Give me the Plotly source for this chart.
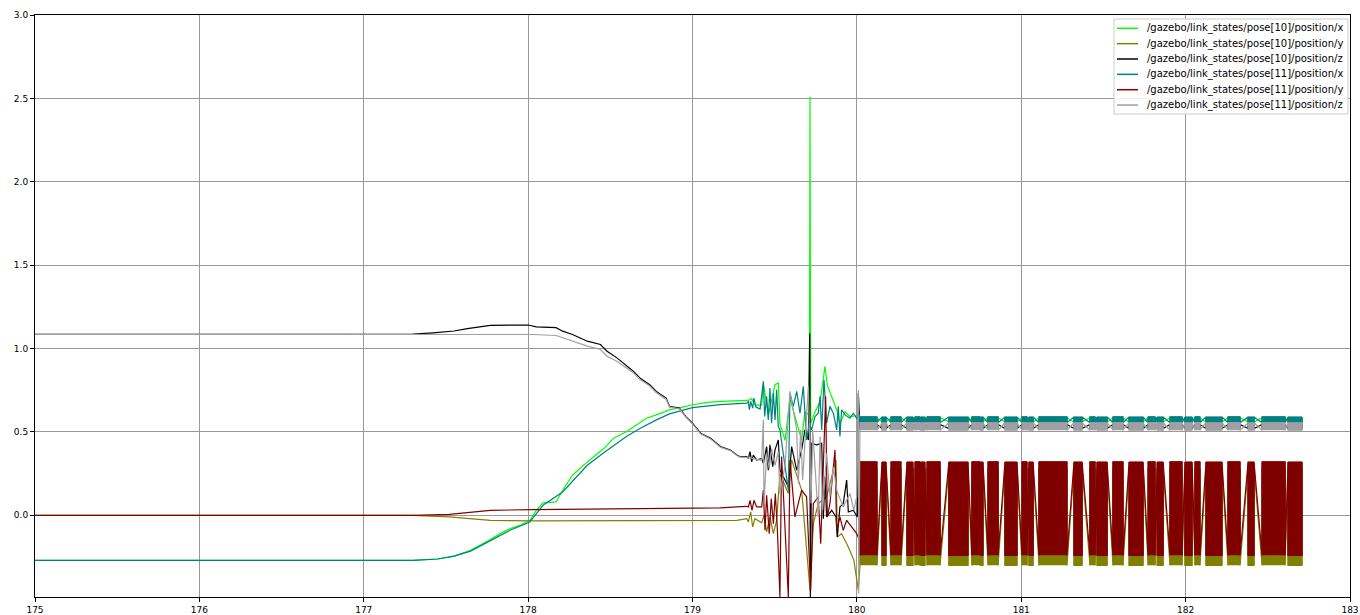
import plotly.graph_objects as go

# ---------------------------------------------------------------- names/colors
names = [
    "/gazebo/link_states/pose[10]/position/x",
    "/gazebo/link_states/pose[10]/position/y",
    "/gazebo/link_states/pose[10]/position/z",
    "/gazebo/link_states/pose[11]/position/x",
    "/gazebo/link_states/pose[11]/position/y",
    "/gazebo/link_states/pose[11]/position/z",
]
colors = ["#00ff00", "#808000", "#000000", "#008080", "#800000", "#a0a0a4"]

x_ticks = [175, 176, 177, 178, 179, 180, 181, 182, 183]
y_ticks = [0.0, 0.5, 1.0, 1.5, 2.0, 2.5, 3.0]

# ---------------------------------------------------------------- samples up to t = 180
t_x10 = [175.0, 177.30, 177.45, 177.55, 177.65, 177.72, 177.77, 177.83, 177.89, 177.95,
         178.01, 178.05, 178.09, 178.17, 178.21, 178.27, 178.36, 178.46, 178.52, 178.60,
         178.68, 178.72, 178.78, 178.86, 178.94, 179.00, 179.09, 179.17, 179.33,
         179.340, 179.360, 179.380, 179.421, 179.431, 179.461, 179.481, 179.502, 179.522,
         179.532, 179.563, 179.593, 179.664, 179.684, 179.711, 179.715, 179.719, 179.745,
         179.776, 179.806, 179.820, 179.877, 179.897, 179.928, 179.958, 180.015]
v_x10 = [-0.27, -0.27, -0.262, -0.245, -0.21, -0.175, -0.146, -0.11, -0.08, -0.06,
         -0.03, 0.03, 0.074, 0.08, 0.15, 0.24, 0.32, 0.40, 0.462, 0.502,
         0.552, 0.582, 0.602, 0.632, 0.649, 0.663, 0.677, 0.683, 0.689,
         0.689, 0.70, 0.66, 0.66, 0.79, 0.60, 0.70, 0.783, 0.793,
         0.55, 0.45, 0.70, 0.452, 0.62, 0.60, 2.51, 0.55, 0.62,
         0.68, 0.893, 0.78, 0.633, 0.55, 0.62, 0.592, 0.60]

t_y10 = [175.0, 177.30, 177.52, 177.67, 177.77, 178.03, 179.17, 179.27, 179.33,
         179.340, 179.354, 179.366, 179.380, 179.421, 179.435, 179.451, 179.471, 179.492,
         179.512, 179.532, 179.583, 179.603, 179.664, 179.715, 179.735, 179.765, 179.816,
         179.873, 179.881, 179.907, 179.948, 179.982, 180.009, 180.015]
v_y10 = [0.0, 0.0, -0.01, -0.024, -0.03, -0.034, -0.034, -0.03, -0.02,
         -0.04, 0.02, -0.07, -0.02, -0.045, 0.0, -0.10, -0.01, -0.11,
         -0.03, 0.251, 0.131, 0.332, 0.151, -0.45, -0.05, 0.07, 0.111,
         0.332, -0.13, -0.11, -0.19, -0.27, -0.45, -0.30]

t_z10 = [175.0, 177.30, 177.42, 177.55, 177.63, 177.70, 177.77, 178.00, 178.05, 178.17,
         178.21, 178.27, 178.36, 178.44, 178.48, 178.54, 178.60, 178.64, 178.68, 178.74,
         178.78, 178.84, 178.86, 178.92, 178.96, 179.00, 179.05, 179.11, 179.17, 179.23,
         179.27, 179.29, 179.33,
         179.340, 179.350, 179.360, 179.370, 179.390, 179.421, 179.431, 179.451, 179.461,
         179.471, 179.488, 179.502, 179.522, 179.532, 179.583, 179.603, 179.634, 179.664,
         179.684, 179.705, 179.713, 179.717, 179.725, 179.755, 179.786, 179.796, 179.806,
         179.816, 179.847, 179.873, 179.881, 179.897, 179.917, 179.938, 179.948, 179.978,
         180.003, 180.009, 180.015]
v_z10 = [1.085, 1.086, 1.094, 1.105, 1.119, 1.13, 1.139, 1.141, 1.13, 1.125,
         1.104, 1.084, 1.044, 1.024, 0.984, 0.944, 0.894, 0.864, 0.823, 0.783,
         0.743, 0.703, 0.653, 0.643, 0.592, 0.552, 0.492, 0.462, 0.412, 0.392,
         0.362, 0.351, 0.352,
         0.341, 0.382, 0.321, 0.361, 0.331, 0.341, 0.311, 0.412, 0.271,
         0.422, 0.291, 0.392, 0.452, 0.271, 0.171, 0.412, 0.271, 0.392,
         0.512, 0.452, 1.09, -0.49, 0.432, 0.422, 0.432, -0.02, 0.231,
         -0.01, 0.03, -0.01, -0.13, 0.05, 0.07, 0.211, 0.02, 0.03,
         -0.01, 0.733, 0.54]

t_x11 = [175.0, 177.30, 177.45, 177.55, 177.65, 177.72, 177.77, 177.89, 178.01, 178.09,
         178.21, 178.36, 178.46, 178.60, 178.68, 178.78, 178.86, 178.94, 179.00, 179.17,
         179.33,
         179.340, 179.346, 179.354, 179.366, 179.374, 179.386, 179.411, 179.431, 179.439,
         179.451, 179.461, 179.471, 179.481, 179.492, 179.502, 179.512, 179.522, 179.532,
         179.583, 179.593, 179.613, 179.634, 179.654, 179.674, 179.694, 179.711, 179.725,
         179.745, 179.765, 179.776, 179.786, 179.800, 179.816, 179.836, 179.857, 179.877,
         179.887, 179.897, 179.907, 179.928, 179.958, 179.978, 179.999, 180.015]
v_x11 = [-0.27, -0.27, -0.262, -0.245, -0.215, -0.18, -0.15, -0.09, -0.04, 0.06,
         0.14, 0.30, 0.375, 0.474, 0.52, 0.572, 0.608, 0.632, 0.646, 0.664,
         0.673,
         0.683, 0.633, 0.683, 0.643, 0.703, 0.649, 0.637, 0.803, 0.592,
         0.713, 0.572, 0.763, 0.552, 0.733, 0.572, 0.753, 0.532, 0.512,
         0.151, 0.733, 0.653, 0.743, 0.612, 0.773, 0.452, 0.552, 0.512,
         0.592, 0.612, 0.713, 0.512, 0.813, 0.552, 0.653, 0.612, 0.512,
         0.653, 0.472, 0.633, 0.602, 0.582, 0.612, 0.582, 0.602]

t_y11 = [175.0, 177.30, 177.52, 177.67, 177.77, 178.03, 178.64, 179.17, 179.27, 179.33,
         179.340, 179.350, 179.362, 179.374, 179.390, 179.421, 179.431, 179.441, 179.451,
         179.467, 179.479, 179.492, 179.504, 179.516, 179.532, 179.542, 179.583, 179.593,
         179.623, 179.664, 179.694, 179.719, 179.735, 179.765, 179.780, 179.810, 179.820,
         179.836, 179.867, 179.877, 179.897, 179.917, 179.938, 179.968, 179.999, 180.015]
v_y11 = [0.0, 0.0, 0.006, 0.02, 0.03, 0.034, 0.038, 0.044, 0.05, 0.054,
         0.05, 0.09, 0.03, 0.09, 0.05, 0.05, 0.151, -0.09, 0.12,
         -0.11, 0.10, -0.05, 0.13, -0.08, -0.49, 0.352, -0.49, 0.332,
         -0.01, 0.151, 0.111, -0.45, 0.07, 0.111, -0.17, 0.713, -0.01,
         0.07, 0.392, -0.09, -0.01, -0.09, -0.03, -0.07, -0.11, -0.15]

t_z11 = [175.0, 177.30, 178.00, 178.03, 178.17, 178.21, 178.27, 178.36, 178.44, 178.48,
         178.54, 178.60, 178.64, 178.68, 178.74, 178.78, 178.84, 178.86, 178.92, 178.96,
         179.00, 179.05, 179.11, 179.17, 179.23, 179.27, 179.29, 179.33,
         179.340, 179.370, 179.421, 179.431, 179.435, 179.451, 179.467, 179.481, 179.502,
         179.522, 179.532, 179.563, 179.593, 179.609, 179.634, 179.644, 179.658, 179.670,
         179.705, 179.721, 179.731, 179.765, 179.776, 179.792, 179.816, 179.836, 179.857,
         179.877, 179.917, 179.958, 179.982, 179.999, 180.009, 180.011, 180.015]
v_z11 = [1.085, 1.086, 1.088, 1.084, 1.078, 1.064, 1.044, 1.014, 0.994, 0.954,
         0.924, 0.884, 0.855, 0.815, 0.775, 0.735, 0.695, 0.650, 0.638, 0.588,
         0.548, 0.488, 0.458, 0.408, 0.388, 0.358, 0.348, 0.348,
         0.345, 0.34, 0.33, 0.572, 0.07, 0.37, 0.28, 0.40, 0.30,
         0.38, 0.13, 0.30, 0.743, 0.65, 0.512, 0.191, 0.512, 0.211,
         0.773, 0.07, 0.512, -0.01, 0.472, 0.03, 0.372, 0.111, 0.291,
         0.151, 0.05, 0.131, 0.03, 0.111, 0.75, -0.47, 0.53]

# ---------------------------------------------------------------- dense bursts after t = 180
burst_start = [180.019, 180.153, 180.208, 180.305, 180.354, 180.390, 180.427, 180.560,
               180.700, 180.755, 180.798, 180.901, 181.005, 181.047, 181.108, 181.321,
               181.418, 181.461, 181.558, 181.656, 181.772, 181.827, 181.905, 181.996,
               182.057, 182.124, 182.258, 182.380, 182.465, 182.623]
burst_end = [180.122, 180.177, 180.268, 180.341, 180.384, 180.414, 180.506, 180.676,
             180.749, 180.767, 180.859, 180.974, 181.035, 181.072, 181.278, 181.370,
             181.449, 181.522, 181.619, 181.741, 181.814, 181.863, 181.978, 182.039,
             182.087, 182.221, 182.331, 182.416, 182.605, 182.708]

# (low, high) envelope of every signal inside a burst, and which end it starts from
burst_low = [0.560, -0.300, 0.520, 0.555, -0.240, 0.510]
burst_high = [0.585, 0.280, 0.545, 0.590, 0.320, 0.555]
burst_phase = [1, 0, 1, 0, 0, 0]

series_t = [t_x10, t_y10, t_z10, t_x11, t_y11, t_z11]
series_v = [v_x10, v_y10, v_z10, v_x11, v_y11, v_z11]


def burst_path(lo, hi, phase):
    xs, ys = [], []
    for i, (s, e) in enumerate(zip(burst_start, burst_end)):
        a, b = (lo, hi) if (i + phase) % 2 == 0 else (hi, lo)
        xs += [s, s, e, e]
        ys += [a, b, b, a]
    return xs, ys


def burst_blocks(lo, hi):
    xs, ys = [], []
    for s, e in zip(burst_start, burst_end):
        xs += [s, s, e, e, None]
        ys += [lo, hi, hi, lo, None]
    return xs, ys


fig = go.Figure()
for k in range(6):
    bx, by = burst_blocks(burst_low[k], burst_high[k])
    fig.add_trace(go.Scatter(
        x=bx, y=by, mode="lines", fill="toself", fillcolor=colors[k],
        line=dict(color=colors[k], width=1), showlegend=False, hoverinfo="skip"))
    px, py = burst_path(burst_low[k], burst_high[k], burst_phase[k])
    fig.add_trace(go.Scatter(
        x=series_t[k] + px, y=series_v[k] + py, mode="lines", name=names[k],
        line=dict(color=colors[k], width=1.2), showlegend=False))

# ---------------------------------------------------------------- layout geometry (pixels)
W, H = 1360, 615
ML, MR, MT, MB = 35, 10, 15, 18
PW, PH = W - ML - MR, H - MT - MB


def fx(p):  # pixel column -> paper x
    return (p - ML) / PW


def fy(p):  # pixel row -> paper y
    return (H - MB - p) / PH


axis_common = dict(
    showline=True, linecolor="black", linewidth=1, mirror=True,
    ticks="outside", ticklen=4, tickcolor="black", automargin=False,
    showgrid=True, gridcolor="#999999", gridwidth=1, zeroline=False,
    tickfont=dict(family="DejaVu Sans", size=9, color="black"),
)

# legend box in the upper right corner
shapes = [dict(type="rect", xref="paper", yref="paper", layer="above",
               x0=fx(1114), x1=fx(1348), y0=fy(114), y1=fy(19),
               line=dict(color="#cccccc", width=1),
               fillcolor="rgba(255,255,255,0.85)")]
annotations = []
for k in range(6):
    yc = 28.3 + 15.35 * k
    shapes.append(dict(type="line", xref="paper", yref="paper", layer="above",
                       x0=fx(1117), x1=fx(1138), y0=fy(yc), y1=fy(yc),
                       line=dict(color=colors[k], width=1.5)))
    annotations.append(dict(xref="paper", yref="paper", x=fx(1145), y=fy(yc),
                            xanchor="left", yanchor="middle", showarrow=False,
                            text=names[k],
                            font=dict(family="DejaVu Sans", size=10, color="black")))

fig.update_layout(
    width=W, height=H,
    margin=dict(l=ML, r=MR, t=MT, b=MB, pad=0),
    paper_bgcolor="white", plot_bgcolor="white",
    xaxis=dict(range=[175, 183], tickvals=x_ticks, **axis_common),
    yaxis=dict(range=[-0.49, 3.0], tickvals=y_ticks, tickformat=".1f", **axis_common),
    shapes=shapes, annotations=annotations,
    showlegend=False,
)

fig.write_html("out.html")
